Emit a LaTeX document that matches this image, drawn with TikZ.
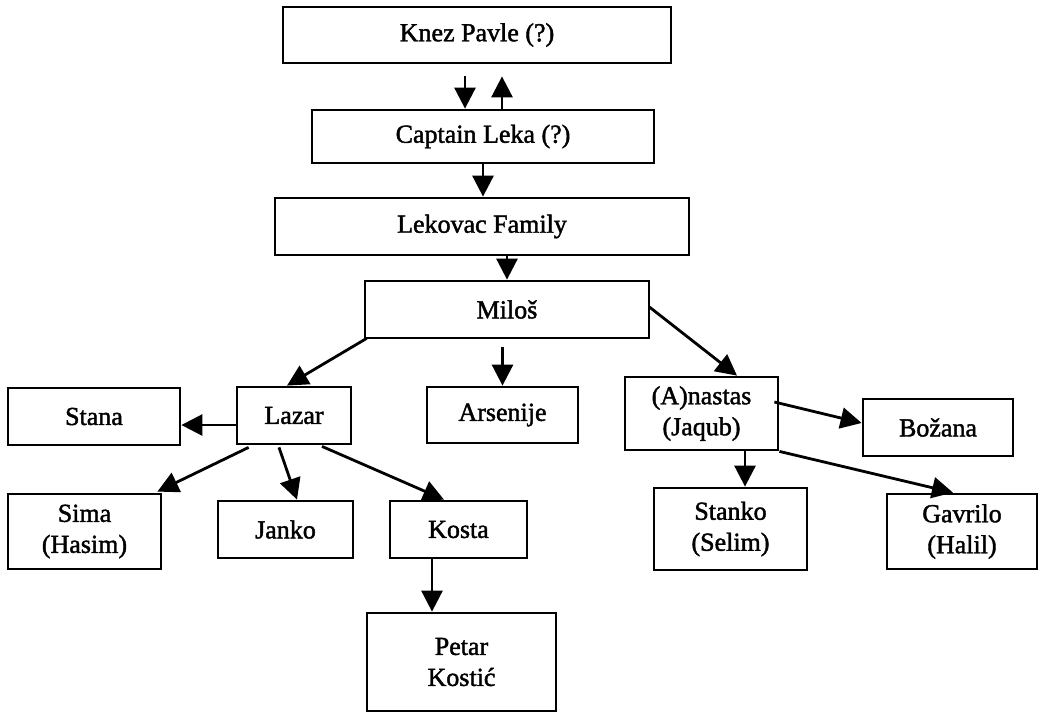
\documentclass[tikz,border=0pt]{standalone}
\usepackage{fontspec}
\setmainfont{Liberation Serif}
\newfontfamily\scanfont{Liberation Serif}[FakeBold=1.6]
\usetikzlibrary{arrows.meta,calc}
\begin{document}
\begin{tikzpicture}[x=1pt,y=-1pt,
  box/.style={draw=black,line width=2.8pt,rectangle,inner sep=0pt,align=center,
    font=\scanfont\fontsize{26pt}{31pt}\selectfont},
  arr/.style={line width=2.8pt,-{Triangle[length=21pt,width=21pt]}}]
\fill[white] (0,0) rectangle (1041,713);
\path[use as bounding box] (0,0) rectangle (1041,713);
% nodes
\node[box,minimum width=388pt,minimum height=56pt] (knez) at (477,35) {Knez Pavle (?)};
\node[box,minimum width=342pt,minimum height=53pt] (leka) at (483,136.5) {Captain Leka (?)};
\node[box,minimum width=414pt,minimum height=57pt] (lek) at (482,226.5) {Lekovac Family};
\node[box,minimum width=284pt,minimum height=57pt] (milos) at (507,309.5) {Miloš};
\node[box,minimum width=172pt,minimum height=57pt] (stana) at (94,416.5) {Stana};
\node[box,minimum width=114pt,minimum height=57pt] (lazar) at (294,415.5) {Lazar};
\node[box,minimum width=151pt,minimum height=56pt] (arsenije) at (502.5,415) {Arsenije};
\node[box,minimum width=153pt,minimum height=73pt] (anastas) at (701.5,413.5) {(A)nastas\\(Jaqub)};
\node[box,minimum width=150pt,minimum height=57pt] (bozana) at (938,427.5) {Božana};
\node[box,minimum width=153pt,minimum height=75pt] (sima) at (84.5,531.5) {Sima\\(Hasim)};
\node[box,minimum width=135pt,minimum height=57pt] (janko) at (285.5,529.5) {Janko};
\node[box,minimum width=137pt,minimum height=57pt] (kosta) at (458.5,529.5) {Kosta};
\node[box,minimum width=153pt,minimum height=82pt] (stanko) at (730.5,529) {Stanko\\(Selim)};
\node[box,minimum width=150pt,minimum height=75pt] (gavrilo) at (962,531.5) {Gavrilo\\(Halil)};
\node[box,minimum width=189pt,minimum height=98pt] (petar) at (461.5,662) {Petar\\Kostić};
% connectors
\draw[arr] ($(knez.south)+(-12,12)$) -- ($(leka.north)+(-18,0)$);
\draw[arr] ($(leka.north)+(19,0)$) -- ($(knez.south)+(25,12)$);
\draw[arr] (leka.south) -- (leka.south |- lek.north);
\draw[arr] (milos.north |- lek.south) -- (milos.north);
\draw[arr] ($(milos.south west)+(3,-1)$) -- ($(lazar.north)+(-7,0)$);
\draw[arr] ($(arsenije.north)+(0,-39)$) -- (arsenije.north);
\draw[arr] ($(milos.east)+(-1,-2.5)$) -- ($(anastas.north)+(35.5,0)$);
\draw[arr] ($(lazar.west)+(0,9.5)$) -- ($(stana.east)+(0,8.5)$);
\draw[arr] ($(lazar.south west)+(13,2)$) -- ($(sima.north east)+(-5,-1)$);
\draw[arr] ($(lazar.south)+(-15,2)$) -- ($(janko.north)+(11.5,0)$);
\draw[arr] ($(lazar.south)+(28,1)$) -- ($(kosta.north)+(-14.5,0)$);
\draw[arr] ($(kosta.south)+(-26.5,0)$) -- ($(petar.north)+(-29.5,0)$);
\draw[arr] ($(anastas.east)+(-5,-11.5)$) -- ($(bozana.west)+(0,-4.5)$);
\draw[arr] ($(anastas.south)+(43.5,0)$) -- ($(stanko.north)+(14.5,0)$);
\draw[arr] (anastas.south east) -- ($(gavrilo.north)+(-9,0)$);
\end{tikzpicture}
\end{document}
